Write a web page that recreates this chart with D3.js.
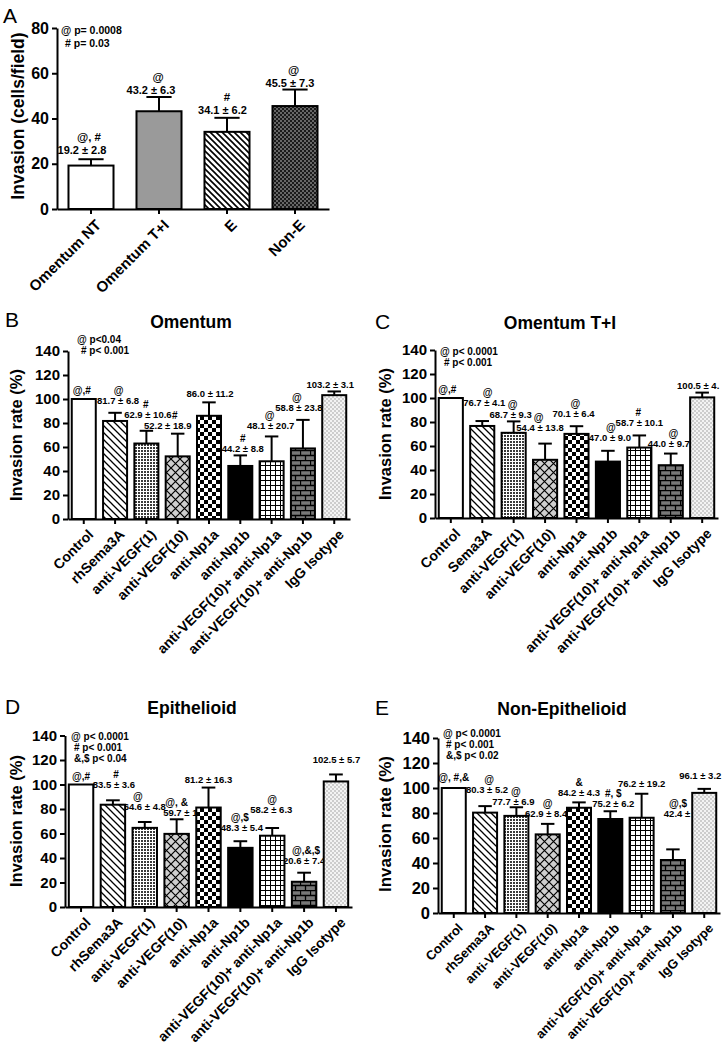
<!DOCTYPE html>
<html lang="en">
  <head>
    <meta charset="UTF-8" />
    <title>Invasion</title>
    <style>
      * {
        margin: 0;
        padding: 0;
      }
      body {
        background: #fff;
      }
      text {
        font-family: 'Liberation Sans', Arial, sans-serif;
        fill: #000;
      }
    </style>
  </head>
  <body>
    <script src="https://cdn.jsdelivr.net/npm/d3@7/dist/d3.min.js"></script>
    <script>
      // ---- data ----
      const groupsA = ['Omentum NT', 'Omentum T+I', 'E', 'Non-E']
      const meanA = [19.2, 43.2, 34.1, 45.5]
      const semA = [2.8, 6.3, 6.2, 7.3]
      const marksA = ['@, #', '@', '#', '@']
      const pA = ['@ p= 0.0008', '# p= 0.03']

      const treatB = ['Control', 'rhSema3A', 'anti-VEGF(1)', 'anti-VEGF(10)', 'anti-Np1a', 'anti-Np1b',
        'anti-VEGF(10)+ anti-Np1a', 'anti-VEGF(10)+ anti-Np1b', 'IgG Isotype']
      const treatC = ['Control', 'Sema3A', 'anti-VEGF(1)', 'anti-VEGF(10)', 'anti-Np1a', 'anti-Np1b',
        'anti-VEGF(10)+ anti-Np1a', 'anti-VEGF(10)+ anti-Np1b', 'IgG Isotype']

      const meanB = [100, 81.7, 62.9, 52.2, 86.0, 44.2, 48.1, 58.8, 103.2]
      const semB = [0, 6.8, 10.6, 18.9, 11.2, 8.8, 20.7, 23.8, 3.1]
      const marksB = ['@,#', '@', '#', '#', '', '#', '@', '@', '']
      const pB = ['@ p<0.04', '# p< 0.001']

      // bars in C; the printed text differs a little for two of them
      const meanC = [100, 76.7, 71.0, 48.5, 70.1, 47.0, 58.7, 44.0, 100.5]
      const semC = [0, 4.1, 9.5, 13.5, 6.4, 9.0, 10.1, 9.7, 4.0]
      const textC = ['', '76.7 ± 4.1', '68.7 ± 9.3', '54.4 ± 13.8', '70.1 ± 6.4', '47.0 ± 9.0',
        '58.7 ± 10.1', '44.0 ± 9.7', '100.5 ± 4.']
      const marksC = ['@,#', '@', '@', '@', '@', '@', '#', '@', '']
      const pC = ['@ p< 0.0001', '# p< 0.001']

      const meanD = [100, 83.5, 64.6, 59.7, 81.2, 48.3, 58.2, 20.6, 102.5]
      const semD = [0, 3.6, 4.8, 11.9, 16.3, 5.4, 6.3, 7.4, 5.7]
      const marksD = ['@,#', '#', '@', '@, &', '', '@,$', '@', '@,&,$', '']
      const pD = ['@ p< 0.0001', '# p< 0.001', '&,$ p< 0.04']

      const meanE = [100, 80.3, 77.7, 62.9, 84.2, 75.2, 76.2, 42.4, 96.1]
      const semE = [0, 5.2, 6.9, 8.4, 4.3, 6.2, 19.2, 8.5, 3.2]
      const marksE = ['@, #,&', '@', '@', '@', '&', '#, $', '', '@,$', '']
      const pE = ['@ p< 0.0001', '# p< 0.001', '&,$ p< 0.02']

      const svg = d3.select('body').append('svg').attr('width', 725).attr('height', 1055)

      // ---- fill patterns ----
      const defs = svg.append('defs')
      function pattern(id, w, h, bg) {
        const p = defs.append('pattern').attr('id', id)
          .attr('patternUnits', 'userSpaceOnUse').attr('width', w).attr('height', h)
        p.append('rect').attr('width', w).attr('height', h).attr('fill', bg)
        return p
      }
      let p = pattern('hatchA', 6, 6, '#fff')
      p.append('path').attr('d', 'M-1,-1L7,7M-1,5L1,7M5,-1L7,1').attr('stroke', '#000').attr('stroke-width', 1.6)
      p = pattern('hatch', 7, 7, '#fff')
      p.append('path').attr('d', 'M-1,-1L8,8M-1,6L1,8M6,-1L8,1').attr('stroke', '#000').attr('stroke-width', 1.3)
      p = pattern('darkfine', 4, 4, '#1a1a1a')
      p.append('rect').attr('width', 2).attr('height', 2).attr('fill', '#666')
      p.append('rect').attr('x', 2).attr('y', 2).attr('width', 2).attr('height', 2).attr('fill', '#666')
      p = pattern('fine', 3, 3, '#fff')
      p.append('rect').attr('width', 2).attr('height', 2).attr('fill', '#3a3a3a')
      p = pattern('diamond', 9, 9, '#cfcfcf')
      p.append('path').attr('d', 'M0,0L9,9M9,0L0,9').attr('stroke', '#000').attr('stroke-width', 1.2)
      p = pattern('checker', 8, 8, '#fff')
      p.append('rect').attr('width', 4).attr('height', 4).attr('fill', '#000')
      p.append('rect').attr('x', 4).attr('y', 4).attr('width', 4).attr('height', 4).attr('fill', '#000')
      p = pattern('grid', 5, 5, '#fff')
      p.append('path').attr('d', 'M0,0.5H5M0.5,0V5').attr('stroke', '#000').attr('stroke-width', 1)
      p = pattern('brick', 10, 10, '#777')
      p.append('path').attr('d', 'M0,0.5H10M0,5.5H10M0.5,0V5M5.5,5V10').attr('stroke', '#000').attr('stroke-width', 1.3)
      p = pattern('dots', 4, 4, '#f3f3f3')
      p.append('circle').attr('cx', 1).attr('cy', 1).attr('r', 0.7).attr('fill', '#8a8a8a')
      p.append('circle').attr('cx', 3).attr('cy', 3).attr('r', 0.7).attr('fill', '#8a8a8a')

      const fillsA = ['#fff', '#9a9a9a', 'url(#hatchA)', 'url(#darkfine)']
      const fills9 = ['#fff', 'url(#hatch)', 'url(#fine)', 'url(#diamond)', 'url(#checker)', '#000',
        'url(#grid)', 'url(#brick)', 'url(#dots)']

      const fmt = (m, s) => `${m.toFixed(1)} ± ${s.toFixed(1)}`

      function drawPanel(cfg) {
        const { cats, mean, sem, marks, texts, fills, pLines, L } = cfg
        const x = d3.scaleBand().domain(cats).range(L.xr)
          .paddingInner(L.pi).paddingOuter(L.po)
        const y = d3.scaleLinear().domain([0, L.max]).range(L.yr)
        const g = svg.append('g')
        const bw = x.bandwidth()
        const cx = (c) => x(c) + bw / 2

        // value labels go under the bars, as in the original
        cats.forEach((c, i) => {
          const cap = y(mean[i] + sem[i])
          const [dx, lift, mdx] = L.nudge[i]
          const lx = cx(c) + dx
          const ly = cap - lift
          const txt = texts ? texts[i] : sem[i] ? fmt(mean[i], sem[i]) : ''
          let my = ly
          let mx = lx
          if (txt) {
            g.append('text').attr('x', lx).attr('y', ly).attr('text-anchor', 'middle')
              .attr('font-size', L.lab).attr('font-weight', 'bold').text(txt)
            my = ly - L.markGap
            mx = lx + mdx
          }
          if (marks[i]) {
            g.append('text').attr('x', mx).attr('y', my).attr('text-anchor', 'middle')
              .attr('font-size', L.lab + 0.5).attr('font-weight', 'bold').text(marks[i])
          }
        })

        g.selectAll('rect.bar').data(cats).join('rect')
          .attr('class', 'bar')
          .attr('x', (c) => x(c))
          .attr('y', (c, i) => y(mean[i]))
          .attr('width', bw)
          .attr('height', (c, i) => y(0) - y(mean[i]))
          .attr('fill', (c, i) => fills[i])
          .attr('stroke', '#000')
          .attr('stroke-width', 2)

        const cw = bw * 0.56
        const eb = g.selectAll('g.err').data(cats.filter((c, i) => sem[i] > 0)).join('g')
        eb.append('line')
          .attr('x1', cx).attr('x2', cx)
          .attr('y1', (c) => y(mean[cats.indexOf(c)]))
          .attr('y2', (c) => { const i = cats.indexOf(c); return y(mean[i] + sem[i]) })
          .attr('stroke', '#000').attr('stroke-width', 2)
        eb.append('line')
          .attr('x1', (c) => cx(c) - cw / 2).attr('x2', (c) => cx(c) + cw / 2)
          .attr('y1', (c) => { const i = cats.indexOf(c); return y(mean[i] + sem[i]) })
          .attr('y2', (c) => { const i = cats.indexOf(c); return y(mean[i] + sem[i]) })
          .attr('stroke', '#000').attr('stroke-width', 2)

        // axes
        const yAxis = g.append('g').attr('transform', `translate(${L.xr[0]},0)`)
          .call(d3.axisLeft(y).tickValues(d3.range(0, L.max + 1, 20)).tickSize(5).tickSizeOuter(0).tickPadding(3))
        yAxis.selectAll('path,line').attr('stroke', '#000').attr('stroke-width', 2)
        yAxis.selectAll('text').attr('font-size', L.tick).attr('font-weight', 'bold')
          .attr('font-family', "'Liberation Sans', Arial, sans-serif").attr('fill', '#000')

        const xAxis = g.append('g').attr('transform', `translate(0,${L.yr[0]})`)
          .call(d3.axisBottom(x).tickSize(5).tickSizeOuter(0))
        xAxis.selectAll('path,line').attr('stroke', '#000').attr('stroke-width', 2)
        xAxis.selectAll('text')
          .attr('y', 0).attr('x', 0).attr('dy', '0.75em')
          .attr('transform', `translate(${L.xl[0]},${L.xl[1]}) rotate(-45)`)
          .attr('text-anchor', 'end')
          .attr('font-size', L.xfont).attr('font-weight', 'bold')
          .attr('font-family', "'Liberation Sans', Arial, sans-serif").attr('fill', '#000')

        // y title
        g.append('text')
          .attr('transform', `translate(${L.yt[0]},${L.yt[1]}) rotate(-90)`)
          .attr('text-anchor', 'middle').attr('font-size', L.ytf).attr('font-weight', 'bold')
          .text(L.ytitle)

        // panel letter and title
        g.append('text').attr('x', L.letter[0]).attr('y', L.letter[1])
          .attr('font-size', 21).text(L.id)
        if (L.title) {
          g.append('text').attr('x', L.title[0]).attr('y', L.title[1]).attr('text-anchor', 'middle')
            .attr('font-size', 17.5).attr('font-weight', 'bold').text(L.title[2])
        }

        // significance legend
        pLines.forEach((t, i) => {
          g.append('text').attr('x', L.pPos[0] + (i ? L.pIndent : 0)).attr('y', L.pPos[1] + i * L.pGap)
            .attr('font-size', L.pf).attr('font-weight', 'bold').text(t)
        })
      }

      const rate = 'Invasion rate (%)'

      drawPanel({
        cats: groupsA, mean: meanA, sem: semA, marks: marksA, fills: fillsA, pLines: pA,
        L: {
          id: 'A', xr: [57, 329], pi: 0.338, po: 0.169, yr: [209, 28], max: 80,
          lab: 11, markGap: 13, tick: 16, xfont: 15, xl: [3, 9],
          yt: [24, 116], ytf: 17.5, ytitle: 'Invasion (cells/field)',
          letter: [3, 23], pPos: [61, 34], pIndent: 4, pGap: 13, pf: 10.5,
          nudge: [[-9, 5, 7], [-8, 3, 7], [-4.5, 4, 4.5], [-5, 3, 3.5]]
        }
      })

      drawPanel({
        cats: treatB, mean: meanB, sem: semB, marks: marksB, fills: fills9, pLines: pB,
        L: {
          id: 'B', xr: [68, 350], pi: 0.233, po: 0.12, yr: [519, 351], max: 140,
          lab: 9.5, markGap: 10, tick: 15, xfont: 14, xl: [3, 9],
          yt: [22, 435], ytf: 16.5, ytitle: rate,
          letter: [5, 327], title: [191, 328, 'Omentum'],
          pPos: [77, 343], pIndent: 4, pGap: 10.5, pf: 10,
          nudge: [[-2, 5, 0], [3, 9, 0.5], [1.5, 13, -2], [-10, 5, 7], [1, 5, 0], [2.5, 3, 0],
            [-1, 7, -1], [-4, 9, -2], [-4, 3, 0]]
        }
      })

      drawPanel({
        cats: treatC, mean: meanC, sem: semC, marks: marksC, texts: textC, fills: fills9, pLines: pC,
        L: {
          id: 'C', xr: [435, 718], pi: 0.233, po: 0.12, yr: [518, 350], max: 140,
          lab: 9.5, markGap: 10, tick: 15, xfont: 14, xl: [3, 9],
          yt: [391, 434], ytf: 16.5, ytitle: rate,
          letter: [375, 329], title: [560, 329, 'Omentum T+I'],
          pPos: [440, 355], pIndent: 4, pGap: 10.5, pf: 10,
          nudge: [[-3.5, 5, 0], [2, 15, 3.5], [-3, 3, 2], [-5, 12.5, -1.5], [-3, 9, 2], [2, 10, 1],
            [0, 9, -1], [-2, 6.5, 4.5], [-4, 3.5, 0]]
        }
      })

      drawPanel({
        cats: treatB, mean: meanD, sem: semD, marks: marksD, fills: fills9, pLines: pD,
        L: {
          id: 'D', xr: [65, 352], pi: 0.233, po: 0.12, yr: [907, 735.5], max: 140,
          lab: 9.5, markGap: 10, tick: 15, xfont: 14, xl: [3, 9],
          yt: [22, 821], ytf: 16.5, ytitle: rate,
          letter: [5, 714], title: [192, 714, 'Epithelioid'],
          pPos: [71, 740], pIndent: 3, pGap: 11, pf: 10,
          nudge: [[0, 4.5, 0], [1, 12, 2], [0, 12, -7], [10, 3, -10], [0, 4.5, 0], [1.5, 10, -2],
            [-1, 15, 1], [0, 8.7, 2], [0.5, 11.5, 0]]
        }
      })

      drawPanel({
        cats: treatB, mean: meanE, sem: semE, marks: marksE, fills: fills9, pLines: pE,
        L: {
          id: 'E', xr: [438, 720], pi: 0.233, po: 0.12, yr: [913, 738], max: 140,
          lab: 9.5, markGap: 10, tick: 16.5, xfont: 13, xl: [3, 9],
          yt: [391, 824], ytf: 17, ytitle: rate,
          letter: [375, 715], title: [562, 715, 'Non-Epithelioid'],
          pPos: [443, 737], pIndent: 3, pGap: 11, pf: 10,
          nudge: [[0, 7, 0], [2, 13, 2], [-3, 2, 2.5], [-1.5, 7, 1.5], [0, 6, 0], [3, 4, 0],
            [0, 6.7, 0], [12, 32, -7], [-4, 10, 0]]
        }
      })
    </script>
  </body>
</html>
